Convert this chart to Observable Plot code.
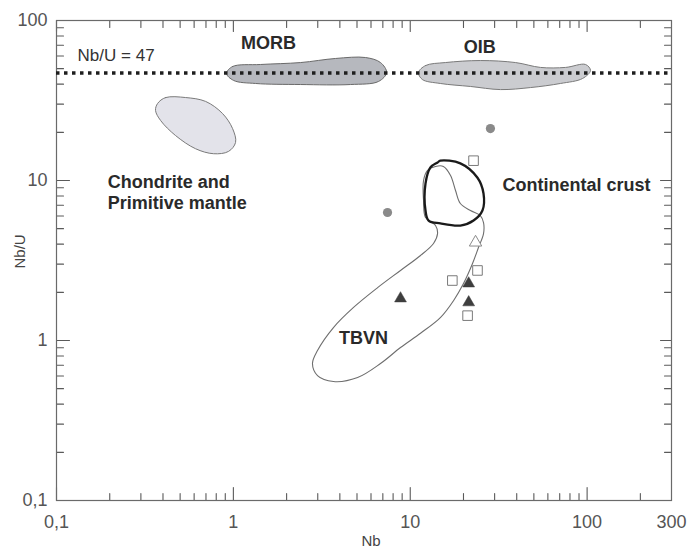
<!DOCTYPE html>
<html><head><meta charset="utf-8">
<script src="https://cdn.jsdelivr.net/npm/d3@7"></script>
<script src="https://cdn.jsdelivr.net/npm/@observablehq/plot@0.6"></script>
<style>body{margin:0;background:#fff;} #chart{width:691px;height:552px;}</style>
</head><body><div id="chart"></div>
<script>
// Field outlines: [Nb, Nb/U]
const morb = [[0.915,46.7],[0.990,51.6],[1.425,53.1],[2.40,54.6],[3.78,57.9],[5.59,58.7],[6.79,54.6],[7.35,47.3],[6.62,41.6],[4.60,39.8],[2.40,39.8],[1.335,40.4],[1.003,42.2]];
const oib = [[11.14,47.3],[12.2,52.3],[15.8,54.6],[24.9,56.2],[39.4,54.6],[54.5,50.9],[75.5,50.9],[98,53.1],[104.5,48.7],[94.2,43.4],[70.7,40.4],[47.9,38.1],[32.4,37.0],[21.9,38.7],[14.8,40.4],[11.7,42.8]];
const chondrite = [[0.373,30.3],[0.414,33.0],[0.537,33.0],[0.697,31.2],[0.869,26.2],[0.990,21.1],[1.029,17.3],[0.939,15.2],[0.773,14.7],[0.611,15.8],[0.471,19.1],[0.388,23.7],[0.363,27.4]];
const crust = [[14.8,13.3],[19.2,12.8],[24.0,10.4],[25.96,8.29],[25.6,6.49],[22.8,5.62],[19.2,5.23],[14.8,5.39],[12.7,5.62],[12.2,6.49],[12.2,9.58],[13.0,12.06],[14.27,12.96]];
const tbvn = [[12.53,11.55],[13.9,12.24],[15.4,12.24],[16.9,10.75],[18.03,8.66],[19.2,7.18],[21.9,6.49],[24.9,6.04],[25.96,5.46],[25.96,4.66],[24.3,3.81],[22.5,3.03],[20.0,2.27],[17.6,1.78],[14.8,1.39],[11.43,1.11],[8.81,0.904],[6.79,0.718],[5.04,0.587],[3.68,0.554],[2.99,0.604],[2.80,0.718],[2.99,0.866],[3.68,1.205],[4.78,1.61],[6.54,2.14],[8.81,2.74],[11.43,3.40],[13.54,4.04],[14.27,4.66],[13.9,5.23],[12.2,5.87],[11.89,7.50],[11.89,10.0]];

// Samples: [Nb, Nb/U]
const grayCircles = [[28.4,21.1],[7.44,6.31]];
const openSquares = [[22.8,13.3],[24.0,2.74],[17.3,2.37],[21.1,1.43]];
const filledTriangles = [[8.81,1.83],[21.4,2.27],[21.4,1.73]];
const openTriangles = [[23.4,4.10]];

const nbUChondrite = 47;

// Labels
const centeredLabels = [
  {text: "MORB", nb: 1.58, r: 71.8},
  {text: "OIB", nb: 24.7, r: 67.8},
  {text: "TBVN", nb: 5.44, r: 1.04}
];
const leftLabels = [
  {text: "Chondrite and", nb: 0.195, r: 9.72},
  {text: "Primitive mantle", nb: 0.195, r: 7.18},
  {text: "Continental crust", nb: 33.2, r: 9.30}
];
const ratioLabel = [{text: "Nb/U = 47", nb: 0.1316, r: 60.4}];

// Ticks
const xLabelTicks = [0.1, 1, 10, 100, 300];
const xMajorTicks = [0.1, 1, 10, 100];
const xMinorTicks = [0.2,0.3,0.4,0.5,0.6,0.7,0.8,0.9,2,3,4,5,6,7,8,9,20,30,40,50,60,70,80,90,200];
const yMajorTicks = [0.1, 1, 10, 100];
const yMinorTicks = [0.2,0.3,0.4,0.5,0.6,0.7,0.8,0.9,2,3,4,5,6,7,8,9,20,30,40,50,60,70,80,90];

const fmt = d => String(d).replace(".", ",");
const tc = "#5a5a5a";
const xTick = (data, side, len) => Plot.vector(data, {x: d => d, frameAnchor: side, length: len, anchor: "start", rotate: side === "bottom" ? 0 : 180, r: 0, stroke: tc, strokeWidth: 1.1});
const yTick = (data, side, len) => Plot.vector(data, {y: d => d, frameAnchor: side, length: len, anchor: "start", rotate: side === "left" ? 90 : -90, r: 0, stroke: tc, strokeWidth: 1.1});
const field = (data, opts) => Plot.line(data, {x: d => d[0], y: d => d[1], curve: "catmull-rom-closed", ...opts});
const pts = (data, opts) => Plot.dot(data, {x: d => d[0], y: d => d[1], ...opts});

const chart = Plot.plot({
  width: 691, height: 552,
  marginLeft: 56, marginRight: 20, marginTop: 20, marginBottom: 52,
  style: {fontFamily: "'Liberation Sans', Arial, sans-serif", background: "#fff"},
  x: {type: "log", domain: [0.1, 300]},
  y: {type: "log", domain: [0.1, 100]},
  marks: [
    Plot.axisX({anchor: "bottom", ticks: xLabelTicks, tickSize: 0, tickPadding: 15, tickFormat: fmt, fontSize: 18, color: "#555", label: null}),
    Plot.axisY({anchor: "left", ticks: yMajorTicks, tickSize: 0, tickPadding: 9, tickFormat: fmt, fontSize: 18, color: "#555", label: null}),
    xTick(xMajorTicks, "bottom", 13),
    xTick(xMinorTicks, "bottom", 7),
    xTick(xMajorTicks, "top", 11),
    xTick(xMinorTicks, "top", 7),
    yTick(yMajorTicks, "left", 13),
    yTick(yMinorTicks, "left", 7),
    yTick(yMajorTicks, "right", 11),
    yTick(yMinorTicks, "right", 7),
    Plot.frame({stroke: "#6a6a6a", strokeWidth: 1.2}),
    field(chondrite, {fill: "#e3e3ea", stroke: "#7a7a7a", strokeWidth: 1}),
    field(morb, {fill: "#b6b8be", stroke: "#6a6a6a", strokeWidth: 1}),
    field(oib, {fill: "#cbccd0", stroke: "#7a7a7a", strokeWidth: 1}),
    Plot.ruleY([nbUChondrite], {stroke: "#1e1e1e", strokeWidth: 3.5, strokeDasharray: "3.5,4.5"}),
    field(tbvn, {stroke: "#6e6e6e", strokeWidth: 1.1}),
    field(crust, {stroke: "#1a1a1a", strokeWidth: 2.3}),
    pts(grayCircles, {r: 4.6, fill: "#8a8a8a", stroke: "none"}),
    pts(openSquares, {symbol: "square", r: 5.4, fill: "#fff", stroke: "#7a7a7a", strokeWidth: 1}),
    pts(filledTriangles, {symbol: "triangle", r: 4.4, fill: "#3e3e3e", stroke: "#3e3e3e", strokeWidth: 0.5}),
    pts(openTriangles, {symbol: "triangle", r: 4.6, fill: "#fff", stroke: "#8a8a8a", strokeWidth: 1}),
    Plot.text(centeredLabels, {x: "nb", y: "r", text: "text", textAnchor: "middle", fontSize: 18, fontWeight: "bold", fill: "#2a2a2a"}),
    Plot.text(leftLabels, {x: "nb", y: "r", text: "text", textAnchor: "start", fontSize: 18, fontWeight: "bold", fill: "#2a2a2a"}),
    Plot.text(ratioLabel, {x: "nb", y: "r", text: "text", textAnchor: "start", fontSize: 17, fill: "#333"}),
    Plot.text(["Nb"], {frameAnchor: "bottom", text: d => d, dy: 45, dx: 7, fontSize: 15, fill: "#444"}),
    Plot.text(["Nb/U"], {frameAnchor: "left", text: d => d, rotate: -90, dx: -36, dy: 8, fontSize: 15, fill: "#444"})
  ]
});
document.getElementById("chart").appendChild(chart);
</script>
</body></html>
